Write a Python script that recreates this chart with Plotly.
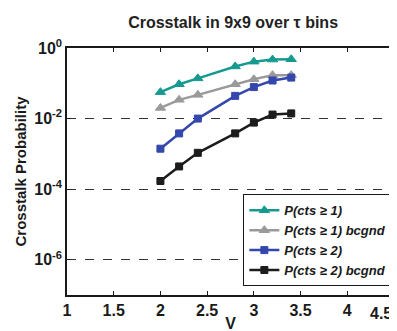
import plotly.graph_objects as go

V = [2.0, 2.2, 2.4, 2.8, 3.0, 3.2, 3.4]
p_ge1 = [0.056, 0.094, 0.138, 0.30, 0.41, 0.47, 0.48]
p_ge1_bg = [0.020, 0.034, 0.047, 0.094, 0.13, 0.17, 0.17]
p_ge2 = [0.0014, 0.0038, 0.010, 0.044, 0.078, 0.12, 0.145]
p_ge2_bg = [0.00017, 0.00044, 0.00107, 0.0038, 0.0077, 0.013, 0.014]

names = ["P(cts \u2265 1)", "P(cts \u2265 1) bcgnd", "P(cts \u2265 2)", "P(cts \u2265 2) bcgnd"]
series = [p_ge1, p_ge1_bg, p_ge2, p_ge2_bg]
colors = ["#16998f", "#9a9a9a", "#3347ad", "#1c1c1c"]
symbols = ["triangle-up", "triangle-up", "square", "square"]
sizes = [9, 9, 7, 7]

xticks = [1, 1.5, 2, 2.5, 3, 3.5, 4]
x_edge_tick = 4.5
yticks = [1e0, 1e-2, 1e-4, 1e-6]
yticktext = ["10<sup>0</sup>", "10<sup>-2</sup>", "10<sup>-4</sup>", "10<sup>-6</sup>"]

font = "Liberation Sans, Arial, sans-serif"
ink = "#1a1a1a"

fig = go.Figure()
for n, s, c, sym, sz in zip(names, series, colors, symbols, sizes):
    fig.add_trace(go.Scatter(
        x=V, y=s, name=n, mode="lines+markers",
        line=dict(color=c, width=2.5),
        marker=dict(symbol=sym, size=sz, color=c, line=dict(color=c, width=1)),
    ))

fig.update_layout(
    width=397, height=331,
    margin=dict(l=59, r=9, t=40, b=39),
    paper_bgcolor="white", plot_bgcolor="white",
    font=dict(family=font, color=ink),
    title=dict(text="Crosstalk in 9x9 over \u03c4 bins", x=0.567, xanchor="center",
               y=0.955, yanchor="middle",
               font=dict(size=16, family=font, weight="bold", color="#222222")),
    showlegend=True,
    legend=dict(x=0.995, y=0.035, xanchor="right", yanchor="bottom",
                bgcolor="white", bordercolor=ink, borderwidth=1,
                font=dict(size=13, family=font, weight="bold", style="italic"),
                tracegroupgap=0, itemwidth=30),
)
fig.add_annotation(
    x=x_edge_tick, y=0, xref="x", yref="paper", yanchor="top", yshift=-8,
    xanchor="center", xshift=-13,
    text=str(x_edge_tick), showarrow=False,
    font=dict(size=16, family=font, color=ink, weight="bold"),
)
fig.update_xaxes(
    range=[1, 4.5], tickvals=xticks, ticktext=[str(t) for t in xticks],
    ticks="inside", ticklen=4, tickcolor=ink,
    showline=True, linecolor=ink, linewidth=1.5, mirror="ticks",
    showgrid=False, zeroline=False,
    tickfont=dict(size=16, family=font, color=ink, weight="bold"),
    title=dict(text="V", font=dict(size=16, family=font, weight="bold"), standoff=0),
)
fig.update_yaxes(
    type="log", range=[-7, 0], tickvals=yticks, ticktext=yticktext,
    ticks="inside", ticklen=4, tickcolor=ink,
    showline=True, linecolor=ink, linewidth=1.5, mirror="ticks",
    showgrid=True, gridcolor="#333333", gridwidth=1, griddash="dash",
    zeroline=False,
    tickfont=dict(size=16, family=font, color=ink, weight="bold"),
    title=dict(text="Crosstalk Probability", font=dict(size=15, family=font, weight="bold"), standoff=4),
)

fig.write_html("out.html")
